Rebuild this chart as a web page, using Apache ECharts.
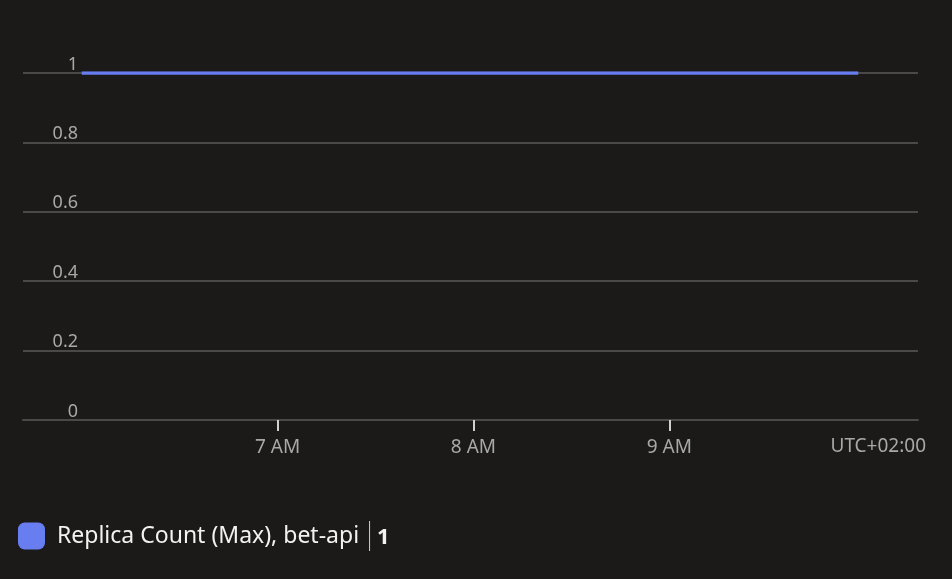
<!DOCTYPE html>
<html>
<head>
<meta charset="utf-8">
<script src="https://cdn.jsdelivr.net/npm/echarts@6/dist/echarts.min.js"></script>
<style>
  html, body { margin: 0; padding: 0; background: #1b1a19; }
  #chart { width: 952px; height: 579px; }
</style>
</head>
<body>
<div id="chart"></div>
<script>
// x values are hours of the day in UTC+02:00
const axisMin = 5.70
const axisMax = 10.27

const seriesName = 'Replica Count (Max), bet-api'
const times = [6.0, 9.965]
const replicaValues = [1, 1]
const tickHours = [7, 8, 9]
const tickLabels = ['7 AM', '8 AM', '9 AM']
const summaryValue = '1'

const font = '"Noto Sans", "Open Sans", sans-serif'
const lineColor = '#687df0'

var myChart = echarts.init(document.getElementById('chart'))
let option = {
    backgroundColor: '#1b1a19',
    animation: false,
    grid: {
        left: 23,
        right: 34,
        top: 73,
        bottom: 159
    },
    xAxis: {
        type: 'value',
        min: axisMin,
        max: axisMax,
        axisLine: { show: true, lineStyle: { color: '#4a4948', width: 2 } },
        axisTick: {
            show: true,
            customValues: tickHours,
            length: 11,
            lineStyle: { color: '#d0d0d0', width: 2 }
        },
        axisLabel: {
            customValues: tickHours,
            margin: 18,
            color: '#a8a8a8',
            fontFamily: font,
            fontSize: 19,
            formatter: (v) => tickLabels[tickHours.indexOf(v)] || ''
        },
        splitLine: { show: false }
    },
    yAxis: {
        type: 'value',
        min: 0,
        max: 1,
        interval: 0.2,
        axisLine: { show: false },
        axisTick: { show: false },
        axisLabel: {
            inside: true,
            align: 'right',
            verticalAlign: 'bottom',
            margin: 55,
            lineHeight: 17,
            color: '#a8a8a8',
            fontFamily: font,
            fontSize: 18
        },
        splitLine: { lineStyle: { color: '#4a4948', width: 2 } }
    },
    legend: {
        left: 18,
        top: 521,
        padding: 0,
        icon: 'roundRect',
        itemWidth: 27,
        itemHeight: 27,
        itemGap: 10,
        data: [seriesName],
        formatter: (name) => '{n|' + name + '}{s|}{v|' + summaryValue + '}',
        textStyle: {
            color: '#f2f2f2',
            fontFamily: font,
            fontSize: 23,
            rich: {
                n: { color: '#f2f2f2', fontFamily: font, fontSize: 23, padding: [0, 10, 0, 7] },
                s: { width: 1, height: 30, backgroundColor: '#d0d0d0' },
                v: { color: '#f2f2f2', fontFamily: font, fontSize: 22, fontWeight: 'bold', padding: [3, 0, 0, 7] }
            }
        }
    },
    graphic: [{
        type: 'text',
        right: 26,
        top: 437,
        style: {
            text: 'UTC+02:00',
            fill: '#a8a8a8',
            font: '19px ' + font
        }
    }],
    series: [{
        name: seriesName,
        type: 'line',
        data: times.map((t, i) => [t, replicaValues[i]]),
        showSymbol: false,
        lineStyle: { color: lineColor, width: 3.5 },
        itemStyle: { color: lineColor }
    }]
}
myChart.setOption(option)
</script>
</body>
</html>
